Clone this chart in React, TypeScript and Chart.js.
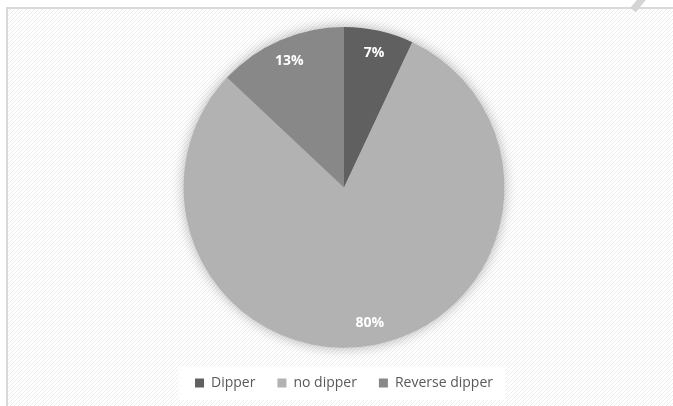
import React, { useEffect, useRef } from "react";
import { Chart, registerables } from "chart.js";

Chart.register(...registerables);

const categories = ["Dipper", "no dipper", "Reverse dipper"];
const values = [7, 80, 13];
const sliceLabels = ["7%", "80%", "13%"];
const colors = ["#606060", "#b2b2b2", "#888888"];

const decorPlugin = {
  id: "decor",
  beforeDraw(chart: any) {
    const ctx = chart.ctx;
    const w = chart.width;
    const h = chart.height;
    ctx.save();
    ctx.fillStyle = "#ffffff";
    ctx.fillRect(0, 0, w, h);
    const pc = document.createElement("canvas");
    pc.width = 4;
    pc.height = 4;
    const p = pc.getContext("2d")!;
    p.fillStyle = "#ffffff";
    p.fillRect(0, 0, 4, 4);
    p.strokeStyle = "rgba(0,0,0,0.07)";
    p.lineWidth = 1;
    p.beginPath();
    p.moveTo(0, 4);
    p.lineTo(4, 0);
    p.moveTo(-1, 1);
    p.lineTo(1, -1);
    p.moveTo(3, 5);
    p.lineTo(5, 3);
    p.stroke();
    const pat = ctx.createPattern(pc, "repeat");
    ctx.fillStyle = pat;
    ctx.fillRect(7, 8, w - 7, h - 8);
    ctx.strokeStyle = "#d9d9d9";
    ctx.lineWidth = 2;
    ctx.strokeRect(7, 8, w + 10, h + 10);
    const lg = chart.legend;
    if (lg && lg.legendHitBoxes && lg.legendHitBoxes.length) {
      const hb = lg.legendHitBoxes;
      const l = hb[0].left - 16;
      const r = hb[hb.length - 1].left + hb[hb.length - 1].width + 12;
      const cy = hb[0].top + hb[0].height / 2;
      ctx.fillStyle = "#ffffff";
      ctx.fillRect(l, cy - 17, r - l, 34);
    }
    ctx.restore();
  },
  beforeDatasetsDraw(chart: any) {
    const arc = chart.getDatasetMeta(0).data[0];
    if (!arc) return;
    const ctx = chart.ctx;
    ctx.save();
    ctx.shadowColor = "rgba(0,0,0,0.35)";
    ctx.shadowBlur = 14;
    ctx.fillStyle = "#b2b2b2";
    ctx.beginPath();
    ctx.arc(arc.x, arc.y, arc.outerRadius - 1, 0, Math.PI * 2);
    ctx.fill();
    ctx.restore();
  },
  afterDatasetsDraw(chart: any) {
    const ctx = chart.ctx;
    const meta = chart.getDatasetMeta(0);
    ctx.save();
    ctx.fillStyle = "#ffffff";
    ctx.font = "bold 14px 'Open Sans', sans-serif";
    ctx.textAlign = "center";
    ctx.textBaseline = "middle";
    meta.data.forEach((a: any, i: number) => {
      const mid = (a.startAngle + a.endAngle) / 2;
      const r = a.outerRadius * 0.86;
      ctx.fillText(sliceLabels[i], a.x + Math.cos(mid) * r, a.y + Math.sin(mid) * r);
    });
    ctx.restore();
  },
  afterDraw(chart: any) {
    const ctx = chart.ctx;
    ctx.save();
    ctx.strokeStyle = "#d4d4d4";
    ctx.lineWidth = 7;
    ctx.beginPath();
    ctx.moveTo(643, -2);
    ctx.lineTo(633, 10);
    ctx.stroke();
    ctx.restore();
  },
};

export default function App() {
  const ref = useRef<HTMLCanvasElement>(null);
  useEffect(() => {
    const chart = new Chart(ref.current!, {
      type: "pie",
      data: {
        labels: categories,
        datasets: [
          {
            data: values,
            backgroundColor: colors,
            borderWidth: 0,
          },
        ],
      },
      options: {
        animation: false,
        responsive: false,
        devicePixelRatio: 1,
        layout: { padding: { top: 27, bottom: 6, left: 15, right: 0 } },
        plugins: {
          legend: {
            position: "bottom",
            title: {
              display: true,
              text: "",
              font: { size: 1 },
              padding: { top: 5, bottom: 0 },
            },
            labels: {
              boxWidth: 9,
              boxHeight: 9,
              padding: 22,
              color: "#595959",
              font: { size: 14, family: "'Open Sans', sans-serif" },
            },
          },
          tooltip: { enabled: false },
        },
      },
      plugins: [decorPlugin],
    });
    return () => chart.destroy();
  }, []);
  return (
    <div style={{ position: "fixed", left: 0, top: 0, width: 673, height: 406 }}>
      <canvas ref={ref} width={673} height={406} style={{ width: 673, height: 406 }} />
    </div>
  );
}
